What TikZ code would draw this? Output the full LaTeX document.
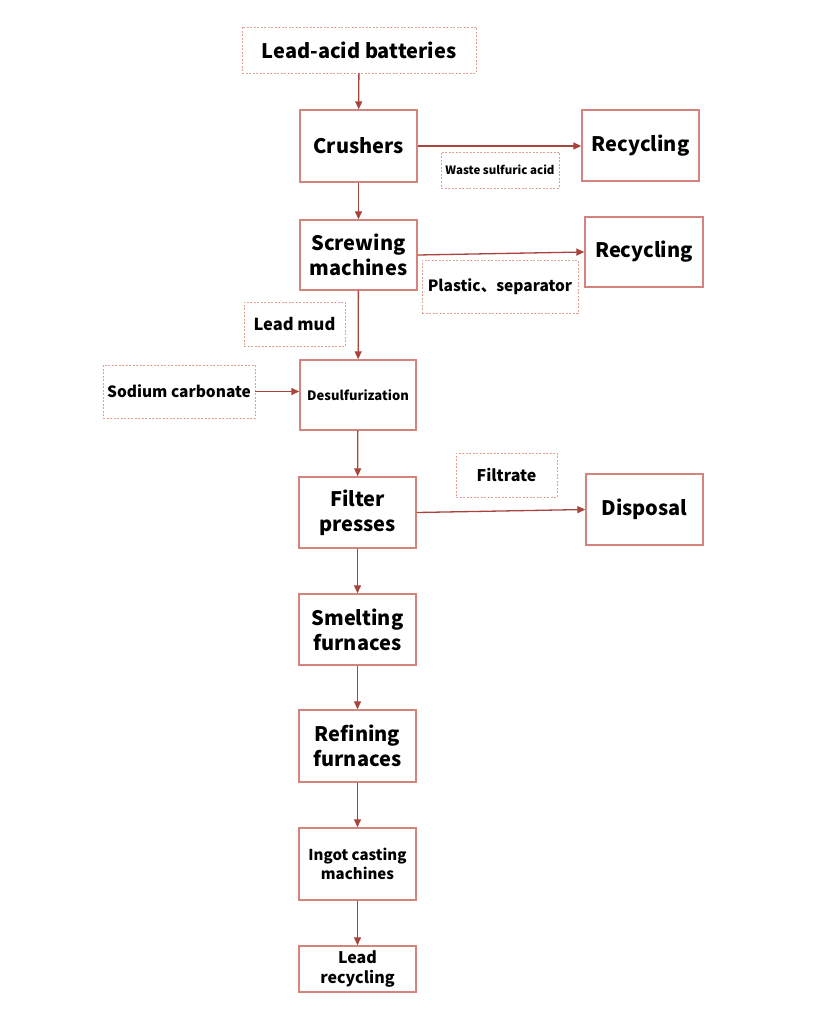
\documentclass[tikz,border=0pt]{standalone}
\usepackage{fontspec}
\setmainfont{Noto Sans CJK SC}
\usetikzlibrary{arrows.meta}
\definecolor{boxred}{HTML}{D4837D}
\definecolor{dashred}{HTML}{E0A090}
\definecolor{arrred}{HTML}{A9443C}
\tikzset{
  solidbox/.style={draw=boxred, line width=1.4pt, inner sep=0pt, align=center, font=\bfseries},
  dashbox/.style={draw=dashred, line width=0.8pt, densely dashed, dash pattern=on 2pt off 1.5pt, inner sep=0pt, align=center, font=\bfseries},
  flow/.style={draw=arrred, line width=1.3pt, -{Triangle[length=8pt,width=7pt]}},
}
\newcommand{\fs}[2]{\fontsize{#1}{#2}\selectfont}
\begin{document}
\begin{tikzpicture}[x=1pt,y=-1pt]
\useasboundingbox (0,0) rectangle (816,1035);
\fill[white] (0,0) rectangle (816,1035);
% main column
\node[dashbox, minimum width=234pt, minimum height=46pt, font=\bfseries\fs{20}{24}] (lab) at (359,50) {Lead-acid batteries};
\node[solidbox, minimum width=117pt, minimum height=72pt, font=\bfseries\fs{20}{25}] (cru) at (358.5,146) {Crushers};
\node[solidbox, minimum width=117pt, minimum height=71pt, font=\bfseries\fs{20}{25}] (rec1) at (640.5,145.5) {Recycling};
\node[dashbox, minimum width=118pt, minimum height=36pt, font=\bfseries\fs{11.5}{14}] (wsa) at (500,170) {Waste sulfuric acid};
\node[solidbox, minimum width=117pt, minimum height=70pt, font=\bfseries\fs{20}{25}] (scr) at (358.5,255) {Screwing\\machines};
\node[solidbox, minimum width=118pt, minimum height=70pt, font=\bfseries\fs{20}{25}] (rec2) at (644,252) {Recycling};
\node[dashbox, minimum width=156pt, minimum height=53pt, font=\bfseries\fs{15.5}{19}] (pls) at (500,286.5) {Plastic、separator};
\node[dashbox, minimum width=101pt, minimum height=44pt, font=\bfseries\fs{16.5}{20}] (mud) at (294.5,324) {Lead mud};
\node[dashbox, minimum width=152pt, minimum height=53pt, font=\bfseries\fs{15.5}{19}] (soda) at (179,391.5) {Sodium carbonate};
\node[solidbox, minimum width=116pt, minimum height=70pt, font=\bfseries\fs{13}{16}] (des) at (358,395) {Desulfurization};
\node[solidbox, minimum width=117pt, minimum height=71pt, font=\bfseries\fs{20}{25}] (fil) at (357.5,512.5) {Filter\\presses};
\node[dashbox, minimum width=101pt, minimum height=44pt, font=\bfseries\fs{16}{20}] (ftr) at (506.5,475) {Filtrate};
\node[solidbox, minimum width=117pt, minimum height=71pt, font=\bfseries\fs{20}{25}] (dis) at (644.5,509.5) {Disposal};
\node[solidbox, minimum width=117pt, minimum height=71pt, font=\bfseries\fs{20}{25}] (sme) at (357.5,629.5) {Smelting\\furnaces};
\node[solidbox, minimum width=117pt, minimum height=72pt, font=\bfseries\fs{20}{25}] (ref) at (357.5,746) {Refining\\furnaces};
\node[solidbox, minimum width=117pt, minimum height=72pt, font=\bfseries\fs{15}{19}] (ing) at (357.5,864) {Ingot casting\\machines};
\node[solidbox, minimum width=117pt, minimum height=46pt, font=\bfseries\fs{16}{20}] (lrc) at (357.5,969) {Lead\\recycling};
% connectors
\draw[flow] (lab) -- (cru);
\draw[flow] (cru.east) -- (rec1.west |- cru.east);
\draw[flow] (cru) -- (scr);
\draw[flow] (scr.east) -- (rec2.west);
\draw[flow] (scr) -- (des);
\draw[flow] (soda) -- (des.west |- soda.east);
\draw[flow] (des) -- (fil);
\draw[flow] (fil.east) -- (dis.west);
\draw[flow] (fil) -- (sme);
\draw[flow] (sme) -- (ref);
\draw[flow] (ref) -- (ing);
\draw[flow] (ing) -- (lrc);
\end{tikzpicture}
\end{document}
